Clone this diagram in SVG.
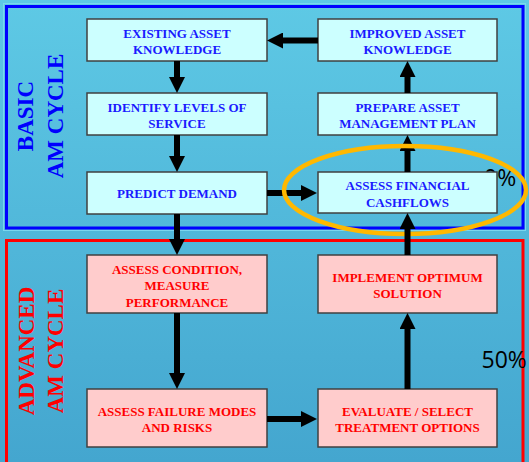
<svg xmlns="http://www.w3.org/2000/svg" width="529" height="462" viewBox="0 0 529 462">
<defs>
<linearGradient id="bg" x1="0" y1="0" x2="0" y2="1">
<stop offset="0" stop-color="#5ec9e5"/>
<stop offset="1" stop-color="#44a6cf"/>
</linearGradient>
<marker id="ah" markerUnits="userSpaceOnUse" viewBox="0 0 16 16" markerWidth="16" markerHeight="16" refX="1" refY="8" orient="auto">
<path d="M0,0 L16,8 L0,16 Z" fill="#000"/>
</marker>
<style>
.box rect{stroke:#404040;stroke-width:1.5}
.basic rect{fill:#ccffff}
.adv rect{fill:#ffcccc}
.box text{font-family:"Liberation Serif","Times New Roman",serif;font-weight:bold;font-size:13px;text-anchor:middle}
.basic text{fill:#1a1aff}
.adv text{fill:#ff0000}
.side{font-family:"Liberation Serif","Times New Roman",serif;font-weight:bold;font-size:23px;text-anchor:middle}
.pct{font-family:"Open Sans","Noto Sans","DejaVu Sans",sans-serif;font-size:23px;fill:#000}
.conn path{stroke:#000;stroke-width:6;fill:none;marker-end:url(#ah)}
</style>
</defs>
<rect x="0" y="0" width="529" height="462" fill="url(#bg)"/>
<rect x="3.5" y="3.5" width="522" height="227" fill="none" stroke="#7ad6ee" stroke-width="1"/>
<g id="frame-basic">
<rect x="6.5" y="6.5" width="516.5" height="221.5" fill="none" stroke="#0000ff" stroke-width="3"/>
<text class="side" fill="#0000ff" transform="translate(33,116) rotate(-90)">BASIC</text>
<text class="side" fill="#0000ff" transform="translate(63,116) rotate(-90)">AM CYCLE</text>
</g>
<g id="frame-advanced">
<rect x="6.5" y="240.5" width="516.5" height="240" fill="none" stroke="#ff0000" stroke-width="3"/>
<text class="side" fill="#ff0000" transform="translate(34,351) rotate(-90)">ADVANCED</text>
<text class="side" fill="#ff0000" transform="translate(63,351) rotate(-90)">AM CYCLE</text>
</g>
<text class="pct" x="484" y="185.5">0%</text>
<text class="pct" x="481.5" y="368">50%</text>
<g id="existing" class="box basic"><rect x="87" y="19" width="180" height="42"/><text x="177" y="37.5">EXISTING ASSET</text><text x="177" y="54">KNOWLEDGE</text></g>
<g id="identify" class="box basic"><rect x="87" y="93" width="180" height="42"/><text x="177" y="111.5">IDENTIFY LEVELS OF</text><text x="177" y="128">SERVICE</text></g>
<g id="predict" class="box basic"><rect x="87" y="172" width="180" height="42"/><text x="177" y="197.5">PREDICT DEMAND</text></g>
<g id="improved" class="box basic"><rect x="318" y="19" width="179" height="42"/><text x="407.5" y="37.5">IMPROVED ASSET</text><text x="407.5" y="54">KNOWLEDGE</text></g>
<g id="prepare" class="box basic"><rect x="318" y="93" width="179" height="42"/><text x="407.5" y="111.5">PREPARE ASSET</text><text x="407.5" y="128">MANAGEMENT PLAN</text></g>
<g id="financial" class="box basic"><rect x="318" y="172" width="179" height="41"/><text x="407.5" y="190">ASSESS FINANCIAL</text><text x="407.5" y="206.5">CASHFLOWS</text></g>
<g id="condition" class="box adv"><rect x="87" y="255" width="180" height="58"/><text x="177" y="273.5">ASSESS CONDITION,</text><text x="177" y="290">MEASURE</text><text x="177" y="306.5">PERFORMANCE</text></g>
<g id="failure" class="box adv"><rect x="87" y="389" width="180" height="58"/><text x="177" y="415.5">ASSESS FAILURE MODES</text><text x="177" y="432">AND RISKS</text></g>
<g id="implement" class="box adv"><rect x="318" y="255" width="179" height="58"/><text x="407.5" y="281.5">IMPLEMENT OPTIMUM</text><text x="407.5" y="298">SOLUTION</text></g>
<g id="evaluate" class="box adv"><rect x="318" y="389" width="179" height="58"/><text x="407.5" y="415.5">EVALUATE / SELECT</text><text x="407.5" y="432">TREATMENT OPTIONS</text></g>
<g id="connectors" class="conn">
<path d="M177,61 V78"/>
<path d="M177,135 V157"/>
<path d="M177,214 V240"/>
<path d="M177,313 V374"/>
<path d="M267,419 H302"/>
<path d="M407.5,389 V328"/>
<path d="M407.5,172 V150"/>
<path d="M407.5,93 V76"/>
<path d="M318,40.5 H282"/>
<path d="M267,193 H302"/>
</g>
<ellipse id="highlight" cx="405" cy="190" rx="121" ry="44" fill="none" stroke="#ffb800" stroke-width="4.5"/>
<g id="connectors-top" class="conn">
<path d="M407.5,255 V228"/>
</g>
</svg>
